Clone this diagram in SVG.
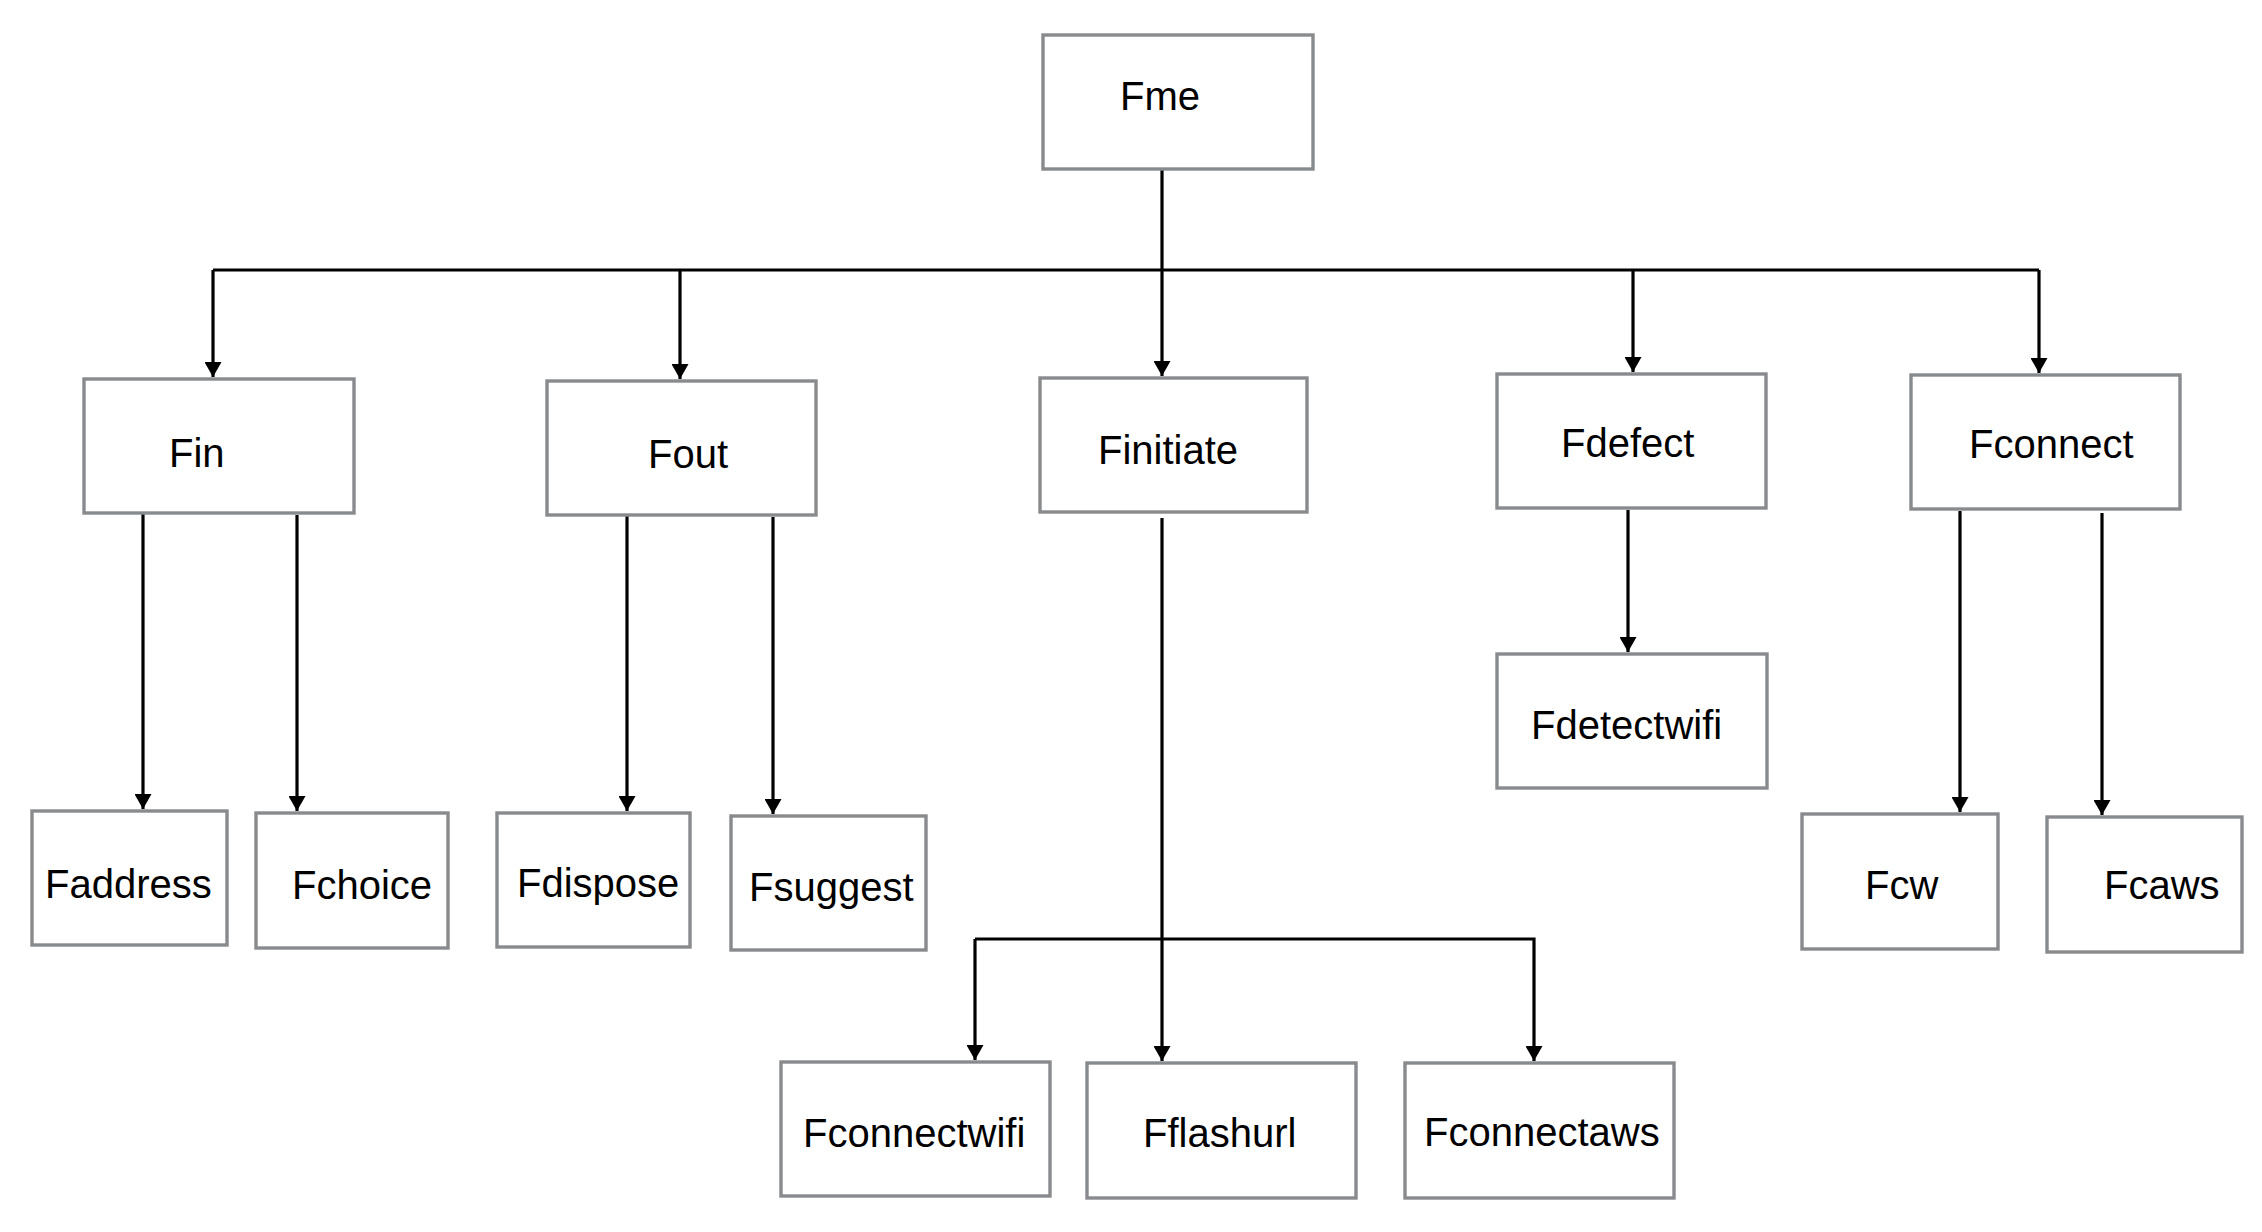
<svg xmlns="http://www.w3.org/2000/svg" width="2262" height="1232" viewBox="0 0 2262 1232">
<style>
.box{fill:#fff;stroke:#898a8d;stroke-width:3.4}
.lbl{font-family:"Liberation Sans",Arial,sans-serif;font-size:40px;fill:#000}
.ln{fill:none;stroke:#000;stroke-width:3.2}
</style>
<defs>
<marker id="ah" markerUnits="userSpaceOnUse" markerWidth="17" markerHeight="17" refX="15" refY="8.5" orient="auto">
<path d="M0,0 L15,8.5 L0,17 z" fill="#000"/>
</marker>
</defs>
<rect width="2262" height="1232" fill="#fff"/>
<g id="connectors">
<path class="ln" d="M1162,169 V376" marker-end="url(#ah)"/>
<path class="ln" d="M213,270 H2039"/>
<path class="ln" d="M213,270 V377" marker-end="url(#ah)"/>
<path class="ln" d="M680,270 V379" marker-end="url(#ah)"/>
<path class="ln" d="M1633,270 V372" marker-end="url(#ah)"/>
<path class="ln" d="M2039,270 V373" marker-end="url(#ah)"/>
<path class="ln" d="M143,513 V809" marker-end="url(#ah)"/>
<path class="ln" d="M297,515 V811" marker-end="url(#ah)"/>
<path class="ln" d="M627,515 V811" marker-end="url(#ah)"/>
<path class="ln" d="M773,517 V814" marker-end="url(#ah)"/>
<path class="ln" d="M1162,518 V1061" marker-end="url(#ah)"/>
<path class="ln" d="M975,939 H1534 V1061" marker-end="url(#ah)"/>
<path class="ln" d="M975,939 V1060" marker-end="url(#ah)"/>
<path class="ln" d="M1628,510 V652" marker-end="url(#ah)"/>
<path class="ln" d="M1960,511 V812" marker-end="url(#ah)"/>
<path class="ln" d="M2102,513 V815" marker-end="url(#ah)"/>
</g>
<g id="Fme"><rect class="box" x="1043" y="35" width="270" height="134"/><text class="lbl" x="1120" y="110">Fme</text></g>
<g id="Fin"><rect class="box" x="84" y="379" width="270" height="134"/><text class="lbl" x="169" y="467">Fin</text></g>
<g id="Fout"><rect class="box" x="547" y="381" width="269" height="134"/><text class="lbl" x="648" y="468">Fout</text></g>
<g id="Finitiate"><rect class="box" x="1040" y="378" width="267" height="134"/><text class="lbl" x="1098" y="464">Finitiate</text></g>
<g id="Fdefect"><rect class="box" x="1497" y="374" width="269" height="134"/><text class="lbl" x="1561" y="457">Fdefect</text></g>
<g id="Fconnect"><rect class="box" x="1911" y="375" width="269" height="134"/><text class="lbl" x="1969" y="458">Fconnect</text></g>
<g id="Faddress"><rect class="box" x="32" y="811" width="195" height="134"/><text class="lbl" x="45" y="898">Faddress</text></g>
<g id="Fchoice"><rect class="box" x="256" y="813" width="192" height="135"/><text class="lbl" x="292" y="899">Fchoice</text></g>
<g id="Fdispose"><rect class="box" x="497" y="813" width="193" height="134"/><text class="lbl" x="517" y="897">Fdispose</text></g>
<g id="Fsuggest"><rect class="box" x="731" y="816" width="195" height="134"/><text class="lbl" x="749" y="901">Fsuggest</text></g>
<g id="Fdetectwifi"><rect class="box" x="1497" y="654" width="270" height="134"/><text class="lbl" x="1531" y="739">Fdetectwifi</text></g>
<g id="Fcw"><rect class="box" x="1802" y="814" width="196" height="135"/><text class="lbl" x="1865" y="899">Fcw</text></g>
<g id="Fcaws"><rect class="box" x="2047" y="817" width="195" height="135"/><text class="lbl" x="2104" y="899">Fcaws</text></g>
<g id="Fconnectwifi"><rect class="box" x="781" y="1062" width="269" height="134"/><text class="lbl" x="803" y="1147">Fconnectwifi</text></g>
<g id="Fflashurl"><rect class="box" x="1087" y="1063" width="269" height="135"/><text class="lbl" x="1143" y="1147">Fflashurl</text></g>
<g id="Fconnectaws"><rect class="box" x="1405" y="1063" width="269" height="135"/><text class="lbl" x="1424" y="1146">Fconnectaws</text></g>
</svg>
